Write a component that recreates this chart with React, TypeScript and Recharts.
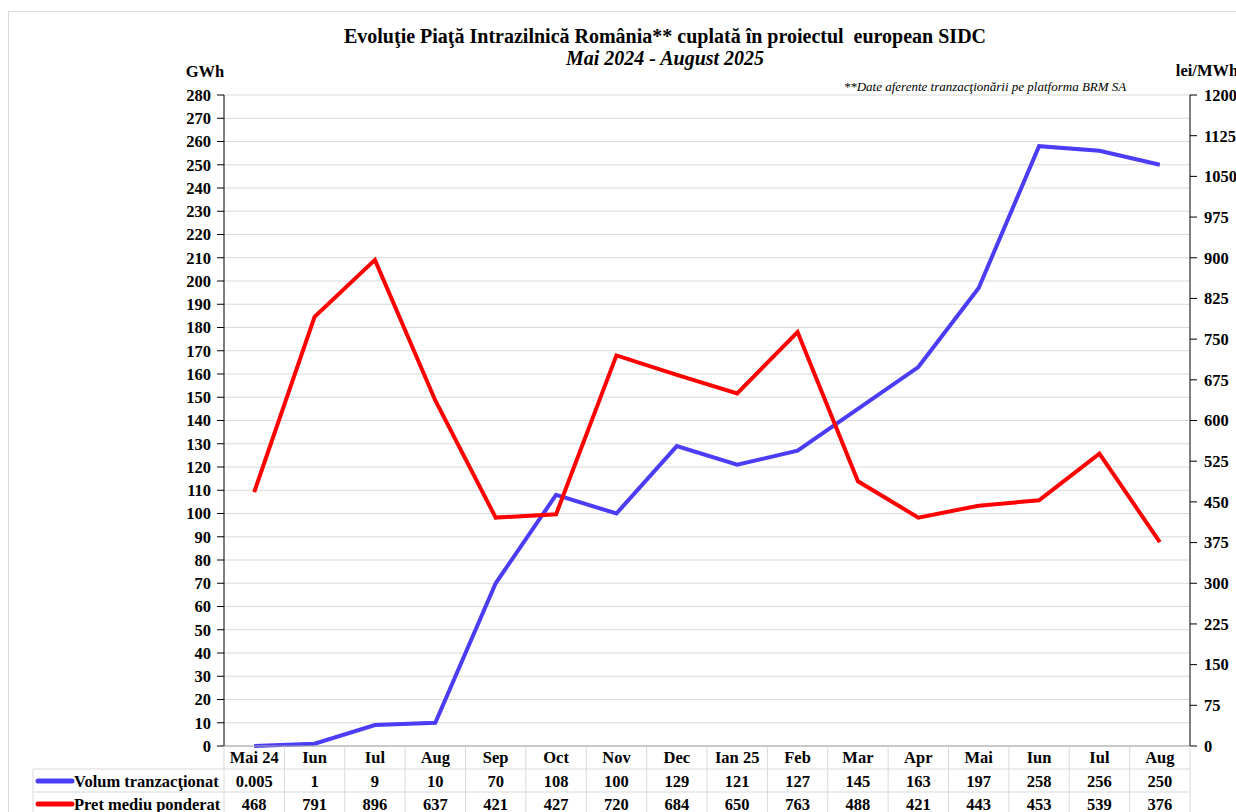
import React from "react";
import { LineChart, Line, XAxis, YAxis, CartesianGrid } from "recharts";

const months = ["Mai 24", "Iun", "Iul", "Aug", "Sep", "Oct", "Nov", "Dec", "Ian 25", "Feb", "Mar", "Apr", "Mai", "Iun", "Iul", "Aug"];
const volumLabels = ["0.005", "1", "9", "10", "70", "108", "100", "129", "121", "127", "145", "163", "197", "258", "256", "250"];
const volum = [0.005, 1, 9, 10, 70, 108, 100, 129, 121, 127, 145, 163, 197, 258, 256, 250];
const pret = [468, 791, 896, 637, 421, 427, 720, 684, 650, 763, 488, 421, 443, 453, 539, 376];
const leftTicks = Array.from({ length: 29 }, (_, i) => i * 10);
const rightTicks = Array.from({ length: 17 }, (_, i) => i * 75);

const data = months.map((m, i) => ({ key: i, month: m, volum: volum[i], pret: pret[i] }));

const FONT = "'Liberation Serif', 'Times New Roman', serif";
const BLUE = "#4b3cf5";
const RED = "#ff0000";
const GRID = "#d9d9d9";

const W = 1236;
const H = 812;
const PLOT_LEFT = 224;
const PLOT_RIGHT = 1190;
const BW = (PLOT_RIGHT - PLOT_LEFT) / months.length;

function TableTick(props: any) {
  const { x, y, payload } = props;
  const i = payload.index;
  const left = x - BW / 2;
  const cell = { fontFamily: FONT, fontSize: 16.5, fontWeight: "bold", fill: "#000", textAnchor: "middle" as const };
  return (
    <g>
      <line x1={left} x2={left} y1={y} y2={H} stroke={GRID} />
      {i === months.length - 1 && <line x1={left + BW} x2={left + BW} y1={y} y2={H} stroke={GRID} />}
      {i === 0 && (
        <g>
          <line x1={33} x2={PLOT_RIGHT} y1={y + 23} y2={y + 23} stroke={GRID} />
          <line x1={33} x2={PLOT_RIGHT} y1={y + 46} y2={y + 46} stroke={GRID} />
          <line x1={33} x2={33} y1={y + 23} y2={H} stroke={GRID} />
          <line x1={38} x2={72} y1={y + 35} y2={y + 35} stroke={BLUE} strokeWidth={5} strokeLinecap="round" />
          <text x={74} y={y + 41} style={{ fontFamily: FONT, fontSize: 16.5, fontWeight: "bold" }}>Volum tranzacţionat</text>
          <line x1={38} x2={72} y1={y + 58} y2={y + 58} stroke={RED} strokeWidth={5} strokeLinecap="round" />
          <text x={74} y={y + 64} style={{ fontFamily: FONT, fontSize: 16.5, fontWeight: "bold" }}>Pret mediu ponderat</text>
        </g>
      )}
      <text x={x} y={y + 17} {...cell}>{months[i]}</text>
      <text x={x} y={y + 41} {...cell}>{volumLabels[i]}</text>
      <text x={x} y={y + 64} {...cell}>{pret[i]}</text>
    </g>
  );
}

export default function App() {
  const tickStyle = { fontFamily: FONT, fontSize: 16.5, fontWeight: "bold", fill: "#000" };
  return (
    <div style={{ position: "absolute", left: 0, top: 0, width: W, height: H, background: "#fff", overflow: "hidden" }}>
      <div style={{ position: "absolute", left: 8, top: 11, width: W, height: H, border: "1px solid #d9d9d9" }} />
      <LineChart width={W} height={H} data={data} margin={{ top: 95, right: 0, bottom: 0, left: 0 }}>
        <CartesianGrid vertical={false} stroke={GRID} yAxisId="left" />
        <XAxis
          dataKey="key"
          height={66}
          stroke="#a6a6a6"
          tickLine={false}
          tickSize={0}
          tickMargin={0}
          interval={0}
          padding={{ left: BW / 2, right: BW / 2 }}
          tick={<TableTick />}
        />
        <YAxis
          yAxisId="left"
          width={PLOT_LEFT}
          domain={[0, 280]}
          ticks={leftTicks}
          interval={0}
          stroke="#000"
          tickSize={7}
          tickMargin={6}
          tick={tickStyle}
        />
        <YAxis
          yAxisId="right"
          orientation="right"
          width={W - PLOT_RIGHT}
          domain={[0, 1200]}
          ticks={rightTicks}
          interval={0}
          stroke="#000"
          tickSize={7}
          tickMargin={7}
          tick={{ ...tickStyle, textAnchor: "start" }}
        />
        <Line yAxisId="left" dataKey="volum" stroke={BLUE} strokeWidth={4} dot={false} isAnimationActive={false} />
        <Line yAxisId="right" dataKey="pret" stroke={RED} strokeWidth={4} dot={false} isAnimationActive={false} />
        <text x={665} y={43} textAnchor="middle" style={{ fontFamily: FONT, fontSize: 20, fontWeight: "bold", whiteSpace: "pre" }}>
          Evoluţie Piaţă Intrazilnică România** cuplată în proiectul  european SIDC
        </text>
        <text x={665} y={65} textAnchor="middle" style={{ fontFamily: FONT, fontSize: 20, fontWeight: "bold", fontStyle: "italic" }}>
          Mai 2024 - August 2025
        </text>
        <text x={205} y={77} textAnchor="middle" style={{ fontFamily: FONT, fontSize: 16.5, fontWeight: "bold" }}>GWh</text>
        <text x={1207} y={76} textAnchor="middle" style={{ fontFamily: FONT, fontSize: 16.5, fontWeight: "bold" }}>lei/MWh</text>
        <text x={985} y={91} textAnchor="middle" style={{ fontFamily: FONT, fontSize: 13, fontStyle: "italic" }}>
          **Date aferente tranzacţionării pe platforma BRM SA
        </text>
      </LineChart>
    </div>
  );
}
